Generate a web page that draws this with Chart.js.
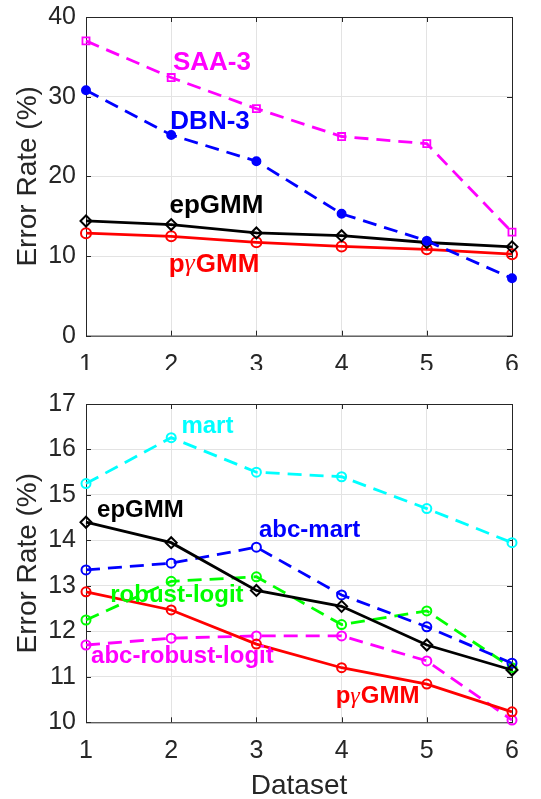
<!DOCTYPE html>
<html>
<head>
<meta charset="utf-8">
<script src="https://cdn.jsdelivr.net/npm/chart.js@4/dist/chart.umd.min.js"></script>
<style>
  html, body { margin: 0; padding: 0; background: #fff; }
  body { width: 541px; height: 799px; position: relative; overflow: hidden; }
  .box { position: absolute; left: 0; width: 541px; }
</style>
</head>
<body>
<div class="box" style="top:0;height:370px"><canvas id="topChart"></canvas></div>
<div class="box" style="top:370px;height:429px"><canvas id="bottomChart"></canvas></div>
<script>
// dataset index on the x axis
const datasetIds = [1, 2, 3, 4, 5, 6];

// top panel
const saa3 = [37.0, 32.4, 28.5, 25.0, 24.1, 13.0];
const dbn3 = [30.8, 25.2, 21.9, 15.3, 11.9, 7.2];
const topTicks = [0, 10, 20, 30, 40];

// both panels
const epGMM = [14.4, 13.95, 12.9, 12.55, 11.7, 11.15];
const pgGMM = [12.87, 12.47, 11.72, 11.2, 10.84, 10.23];

// bottom panel
const mart = [15.25, 16.26, 15.5, 15.4, 14.7, 13.95];
const abcMart = [13.35, 13.5, 13.85, 12.8, 12.1, 11.3];
const robustLogit = [12.25, 13.1, 13.2, 12.15, 12.45, 11.2];
const abcRobustLogit = [11.7, 11.85, 11.9, 11.9, 11.35, 10.05];
const bottomTicks = [10, 11, 12, 13, 14, 15, 16, 17];

const AXIS = '#262626';
const GRID = '#e3e3e3';
const FONT = 'Liberation Sans, Arial, sans-serif';

function pts(values) {
  return values.map((v, i) => ({ x: datasetIds[i], y: v }));
}

function series(label, values, color, opts) {
  return Object.assign({
    label: label,
    data: pts(values),
    borderColor: color,
    pointBorderColor: color,
    pointBackgroundColor: 'rgba(0,0,0,0)',
    borderWidth: 2.8,
    pointBorderWidth: 2,
    pointRadius: 5,
    pointStyle: 'circle',
    tension: 0,
    clip: false
  }, opts || {});
}

const dash = [14, 8];

// box with inward ticks, like a MATLAB axes
const framePlugin = {
  id: 'frame',
  beforeDatasetsDraw(chart) {
    const { ctx, chartArea: a, scales: { x, y } } = chart;
    ctx.save();
    ctx.strokeStyle = AXIS;
    ctx.lineWidth = 1;
    ctx.strokeRect(a.left + 0.5, a.top + 0.5, a.right - a.left, a.bottom - a.top);
    ctx.beginPath();
    y.ticks.forEach(t => {
      const py = Math.round(y.getPixelForValue(t.value)) + 0.5;
      ctx.moveTo(a.left, py); ctx.lineTo(a.left + 5, py);
      ctx.moveTo(a.right, py); ctx.lineTo(a.right - 5, py);
    });
    x.ticks.forEach(t => {
      const px = Math.round(x.getPixelForValue(t.value)) + 0.5;
      ctx.moveTo(px, a.bottom); ctx.lineTo(px, a.bottom - 5);
      ctx.moveTo(px, a.top); ctx.lineTo(px, a.top + 5);
    });
    ctx.stroke();
    ctx.restore();
  }
};

// inline series names; the gamma is set in a thin italic serif like TeX
const namesPlugin = {
  id: 'names',
  afterDatasetsDraw(chart, args, opts) {
    const { ctx, scales: { x, y } } = chart;
    const bold = 'bold ' + opts.size + 'px ' + FONT;
    const greek = 'italic ' + opts.size + 'px Liberation Serif, DejaVu Serif, serif';
    ctx.save();
    ctx.textAlign = 'left';
    ctx.textBaseline = 'middle';
    opts.items.forEach(it => {
      ctx.fillStyle = it.color;
      let px = x.getPixelForValue(it.x);
      const py = y.getPixelForValue(it.y);
      it.text.split(/(γ)/).forEach(part => {
        if (!part) return;
        ctx.font = part === 'γ' ? greek : bold;
        ctx.fillText(part, px, py);
        px += ctx.measureText(part).width + (part === 'γ' ? 1 : 0);
      });
    });
    ctx.restore();
  }
};

function scalesFor(min, max, step, xHeight, showXTitle) {
  return {
    x: {
      type: 'linear', min: 1, max: 6,
      ticks: { stepSize: 1, color: AXIS, padding: 14, font: { family: FONT, size: 25 } },
      grid: { color: GRID, drawTicks: false },
      border: { display: false },
      title: {
        display: showXTitle, text: 'Dataset', color: AXIS,
        font: { family: FONT, size: 28 }, padding: { top: 0, bottom: -4 }
      },
      afterFit(s) { s.height = xHeight; }
    },
    y: {
      min: min, max: max,
      ticks: { stepSize: step, color: AXIS, padding: 10, font: { family: FONT, size: 25 } },
      grid: { color: GRID, drawTicks: false },
      border: { display: false },
      title: {
        display: true, text: 'Error Rate (%)', color: AXIS,
        font: { family: FONT, size: 28 }, padding: { top: 11, bottom: 0 }
      },
      afterFit(s) {
        s.width = 86;
        s.paddingTop = 0;
        s.paddingBottom = 0;
      }
    }
  };
}

new Chart(document.getElementById('topChart'), {
  type: 'line',
  data: {
    datasets: [
      series('SAA-3', saa3, '#ff00ff', { borderDash: dash, pointStyle: 'rect', pointRadius: 5, pointBorderWidth: 1.8 }),
      series('DBN-3', dbn3, '#0000ff', { borderDash: dash, pointRadius: 4, pointBackgroundColor: '#0000ff' }),
      series('epGMM', epGMM, '#000000', { pointStyle: 'rectRot', pointRadius: 5.5 }),
      series('pγGMM', pgGMM, '#ff0000', { pointRadius: 5 })
    ]
  },
  options: {
    responsive: true,
    maintainAspectRatio: false,
    animation: false,
    layout: { padding: { top: 17, right: 29, left: 0, bottom: 0 } },
    scales: scalesFor(topTicks[0], topTicks[topTicks.length - 1], 10, 34.3, false),
    plugins: {
      legend: { display: false },
      tooltip: { enabled: false },
      names: {
        size: 26,
        items: [
          { text: 'SAA-3', x: 2.02, y: 34.2, color: '#ff00ff' },
          { text: 'DBN-3', x: 1.99, y: 26.8, color: '#0000ff' },
          { text: 'epGMM', x: 1.98, y: 16.3, color: '#000000' },
          { text: 'pγGMM', x: 1.97, y: 8.95, color: '#ff0000' }
        ]
      }
    }
  },
  plugins: [framePlugin, namesPlugin]
});

new Chart(document.getElementById('bottomChart'), {
  type: 'line',
  data: {
    datasets: [
      series('epGMM', epGMM, '#000000', { pointStyle: 'rectRot', pointRadius: 5.5 }),
      series('pγGMM', pgGMM, '#ff0000', { pointRadius: 4.5 }),
      series('mart', mart, '#00ffff', { borderDash: dash, pointRadius: 4.5 }),
      series('abc-mart', abcMart, '#0000ff', { borderDash: dash, pointRadius: 4.5 }),
      series('robust-logit', robustLogit, '#00ff00', { borderDash: dash, pointRadius: 4.5 }),
      series('abc-robust-logit', abcRobustLogit, '#ff00ff', { borderDash: dash, pointRadius: 4.5 })
    ]
  },
  options: {
    responsive: true,
    maintainAspectRatio: false,
    animation: false,
    layout: { padding: { top: 34, right: 29, left: 0, bottom: 0 } },
    scales: scalesFor(bottomTicks[0], bottomTicks[bottomTicks.length - 1], 1, 76.7, true),
    plugins: {
      legend: { display: false },
      tooltip: { enabled: false },
      names: {
        size: 24,
        items: [
          { text: 'mart', x: 2.12, y: 16.5, color: '#00ffff' },
          { text: 'epGMM', x: 1.13, y: 14.65, color: '#000000' },
          { text: 'abc-mart', x: 3.03, y: 14.23, color: '#0000ff' },
          { text: 'robust-logit', x: 1.285, y: 12.8, color: '#00ff00' },
          { text: 'abc-robust-logit', x: 1.06, y: 11.44, color: '#ff00ff' },
          { text: 'pγGMM', x: 3.93, y: 10.56, color: '#ff0000' }
        ]
      }
    }
  },
  plugins: [framePlugin, namesPlugin]
});
</script>
</body>
</html>
